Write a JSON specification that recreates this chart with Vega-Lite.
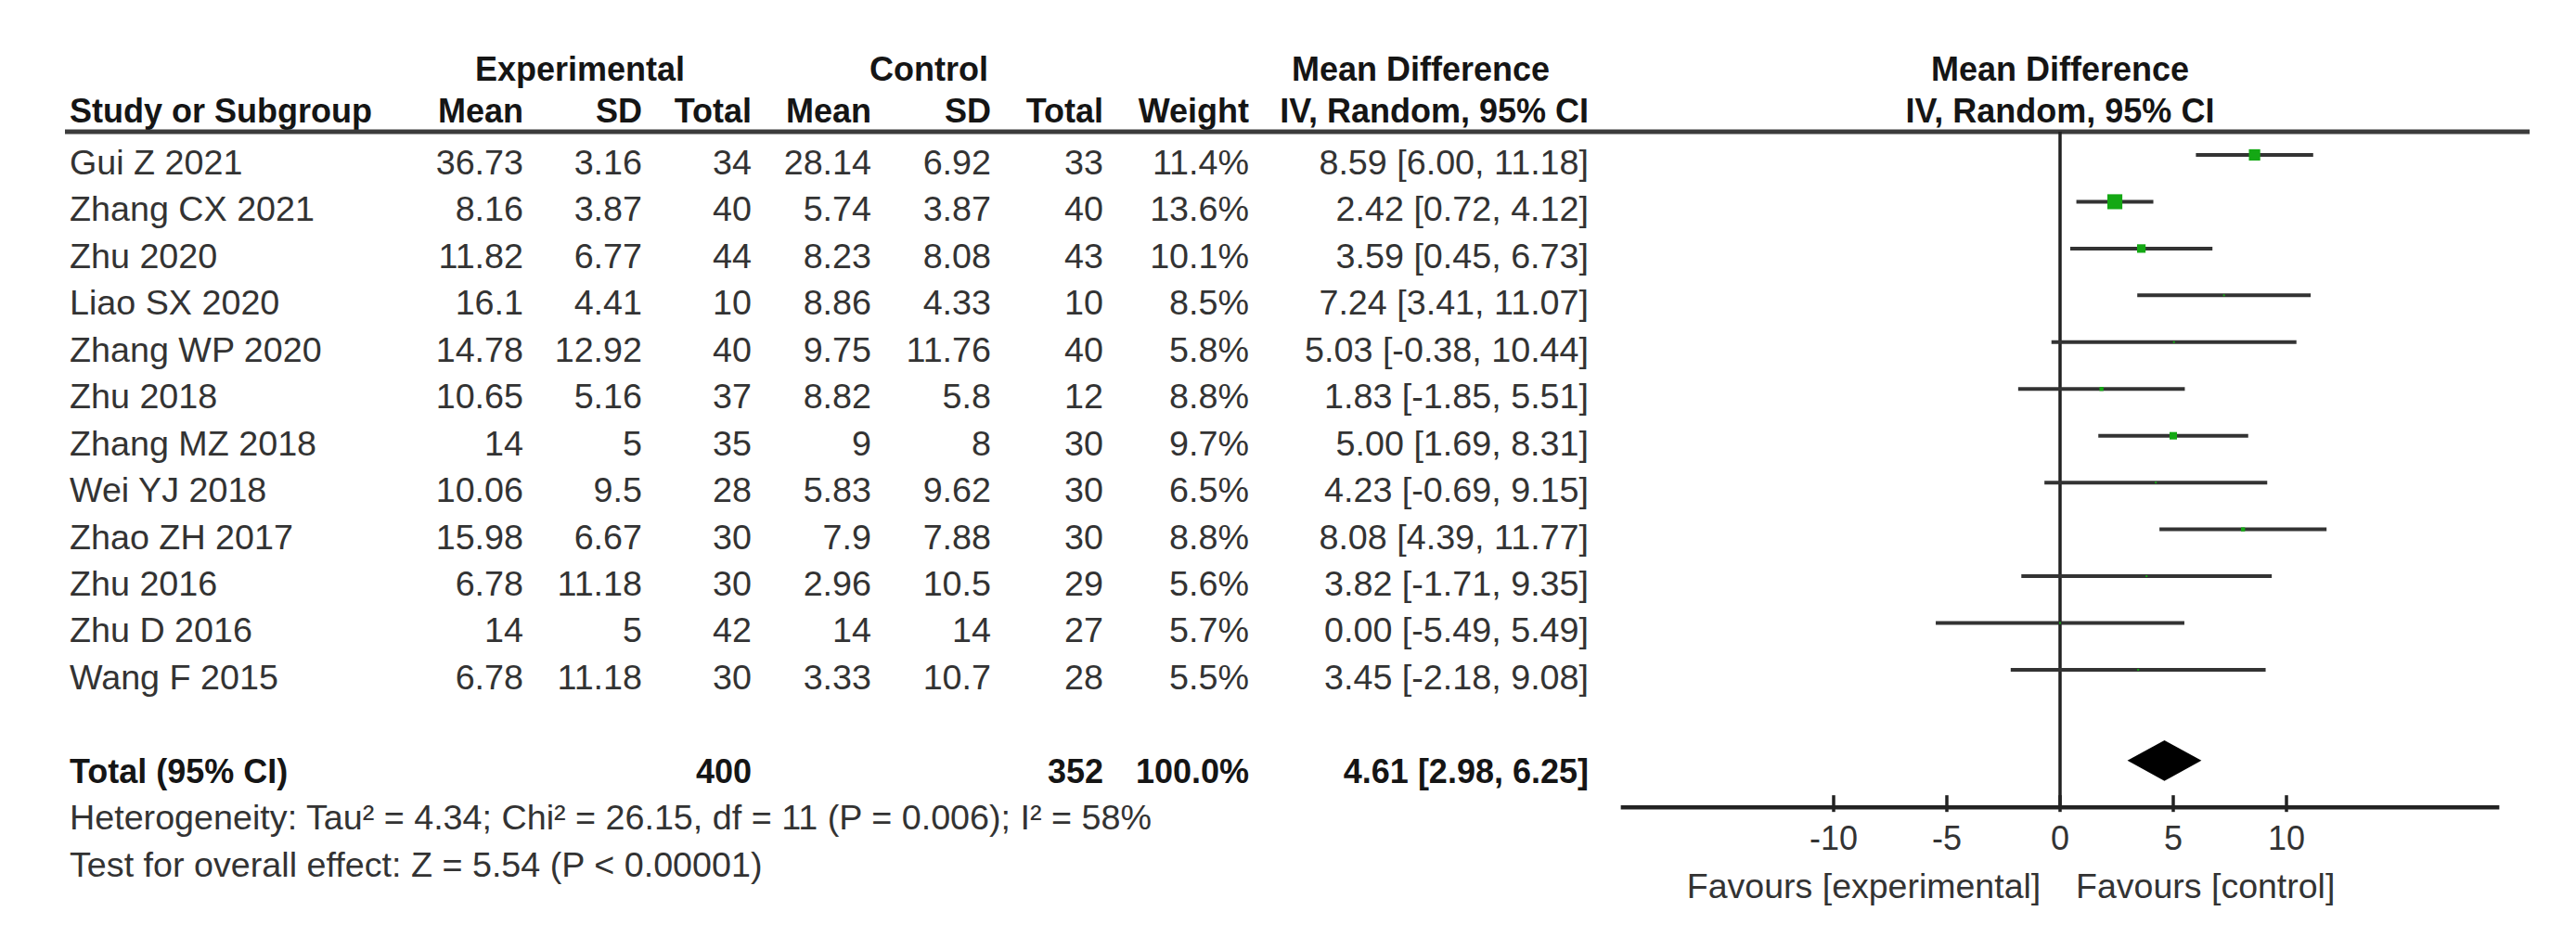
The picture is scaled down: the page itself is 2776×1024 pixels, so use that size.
{
  "$schema": "https://vega.github.io/schema/vega-lite/v6.json",
  "width": 2776,
  "height": 1024,
  "autosize": "none",
  "padding": 0,
  "background": "white",
  "config": {"view": {"stroke": null}},
  "datasets": {
    "studies": [
      {"row": 1, "study": "Gui Z 2021", "meanE": 36.73, "sdE": 3.16, "nE": 34, "meanC": 28.14, "sdC": 6.92, "nC": 33, "weight": 0.114, "md": 8.59, "lo": 6.00, "hi": 11.18, "ci": "8.59 [6.00, 11.18]"},
      {"row": 2, "study": "Zhang CX 2021", "meanE": 8.16, "sdE": 3.87, "nE": 40, "meanC": 5.74, "sdC": 3.87, "nC": 40, "weight": 0.136, "md": 2.42, "lo": 0.72, "hi": 4.12, "ci": "2.42 [0.72, 4.12]"},
      {"row": 3, "study": "Zhu 2020", "meanE": 11.82, "sdE": 6.77, "nE": 44, "meanC": 8.23, "sdC": 8.08, "nC": 43, "weight": 0.101, "md": 3.59, "lo": 0.45, "hi": 6.73, "ci": "3.59 [0.45, 6.73]"},
      {"row": 4, "study": "Liao SX 2020", "meanE": 16.1, "sdE": 4.41, "nE": 10, "meanC": 8.86, "sdC": 4.33, "nC": 10, "weight": 0.085, "md": 7.24, "lo": 3.41, "hi": 11.07, "ci": "7.24 [3.41, 11.07]"},
      {"row": 5, "study": "Zhang WP 2020", "meanE": 14.78, "sdE": 12.92, "nE": 40, "meanC": 9.75, "sdC": 11.76, "nC": 40, "weight": 0.058, "md": 5.03, "lo": -0.38, "hi": 10.44, "ci": "5.03 [-0.38, 10.44]"},
      {"row": 6, "study": "Zhu 2018", "meanE": 10.65, "sdE": 5.16, "nE": 37, "meanC": 8.82, "sdC": 5.8, "nC": 12, "weight": 0.088, "md": 1.83, "lo": -1.85, "hi": 5.51, "ci": "1.83 [-1.85, 5.51]"},
      {"row": 7, "study": "Zhang MZ 2018", "meanE": 14, "sdE": 5, "nE": 35, "meanC": 9, "sdC": 8, "nC": 30, "weight": 0.097, "md": 5.00, "lo": 1.69, "hi": 8.31, "ci": "5.00 [1.69, 8.31]"},
      {"row": 8, "study": "Wei YJ 2018", "meanE": 10.06, "sdE": 9.5, "nE": 28, "meanC": 5.83, "sdC": 9.62, "nC": 30, "weight": 0.065, "md": 4.23, "lo": -0.69, "hi": 9.15, "ci": "4.23 [-0.69, 9.15]"},
      {"row": 9, "study": "Zhao ZH 2017", "meanE": 15.98, "sdE": 6.67, "nE": 30, "meanC": 7.9, "sdC": 7.88, "nC": 30, "weight": 0.088, "md": 8.08, "lo": 4.39, "hi": 11.77, "ci": "8.08 [4.39, 11.77]"},
      {"row": 10, "study": "Zhu 2016", "meanE": 6.78, "sdE": 11.18, "nE": 30, "meanC": 2.96, "sdC": 10.5, "nC": 29, "weight": 0.056, "md": 3.82, "lo": -1.71, "hi": 9.35, "ci": "3.82 [-1.71, 9.35]"},
      {"row": 11, "study": "Zhu D 2016", "meanE": 14, "sdE": 5, "nE": 42, "meanC": 14, "sdC": 14, "nC": 27, "weight": 0.057, "md": 0.00, "lo": -5.49, "hi": 5.49, "ci": "0.00 [-5.49, 5.49]"},
      {"row": 12, "study": "Wang F 2015", "meanE": 6.78, "sdE": 11.18, "nE": 30, "meanC": 3.33, "sdC": 10.7, "nC": 28, "weight": 0.055, "md": 3.45, "lo": -2.18, "hi": 9.08, "ci": "3.45 [-2.18, 9.08]"}
    ],
    "total": [
      {"row": 14, "label": "Total (95% CI)", "nE": 400, "nC": 352, "weight": 1.0, "md": 4.61, "lo": 2.98, "hi": 6.25, "ci": "4.61 [2.98, 6.25]"}
    ],
    "headers": [
      {"text": "Experimental", "slot": 2, "row": -1},
      {"text": "Control", "slot": 6, "row": -1},
      {"text": "Mean Difference", "slot": 10, "row": -1},
      {"text": "Study or Subgroup", "slot": 0, "row": -0.1},
      {"text": "Mean", "slot": 1, "row": -0.1},
      {"text": "SD", "slot": 3, "row": -0.1},
      {"text": "Total", "slot": 4, "row": -0.1},
      {"text": "Mean", "slot": 5, "row": -0.1},
      {"text": "SD", "slot": 7, "row": -0.1},
      {"text": "Total", "slot": 8, "row": -0.1},
      {"text": "Weight", "slot": 9, "row": -0.1},
      {"text": "IV, Random, 95% CI", "slot": 11, "row": -0.1}
    ],
    "notes": [
      {"text": "Heterogeneity: Tau² = 4.34; Chi² = 26.15, df = 11 (P = 0.006); I² = 58%", "row": 15},
      {"text": "Test for overall effect: Z = 5.54 (P < 0.00001)", "row": 16}
    ],
    "plotHeaders": [
      {"text": "Mean Difference", "row": -1},
      {"text": "IV, Random, 95% CI", "row": -0.1}
    ],
    "ticks": [{"v": -10}, {"v": -5}, {"v": 0}, {"v": 5}, {"v": 10}]
  },
  "layer": [
    {
      "layer": [
        {
          "data": {"name": "studies"},
          "mark": {"type": "text", "font": "Liberation Sans", "fontSize": 37.7, "baseline": "middle", "align": "left", "color": "#333333"},
          "encoding": {
            "x": {"datum": 0, "type": "quantitative", "scale": {"domain": [0,1,2,3,4,5,6,7,8,9,10,11,12], "range": [75,564,625,692,810,939,1001,1068,1189,1346,1531,1712,2726], "nice": false, "zero": false}, "axis": null},
            "y": {"field": "row", "type": "quantitative", "scale": {"domain": [-2.508, 17.789], "reverse": true, "nice": false, "zero": false}, "axis": null},
            "text": {"field": "study", "type": "nominal"}
          }
        },
        {
          "data": {"name": "studies"},
          "mark": {"type": "text", "font": "Liberation Sans", "fontSize": 37.7, "baseline": "middle", "align": "right", "color": "#333333"},
          "encoding": {
            "x": {"datum": 1, "type": "quantitative"},
            "y": {"field": "row", "type": "quantitative"},
            "text": {"field": "meanE", "type": "nominal"}
          }
        },
        {
          "data": {"name": "studies"},
          "mark": {"type": "text", "font": "Liberation Sans", "fontSize": 37.7, "baseline": "middle", "align": "right", "color": "#333333"},
          "encoding": {
            "x": {"datum": 3, "type": "quantitative"},
            "y": {"field": "row", "type": "quantitative"},
            "text": {"field": "sdE", "type": "nominal"}
          }
        },
        {
          "data": {"name": "studies"},
          "mark": {"type": "text", "font": "Liberation Sans", "fontSize": 37.7, "baseline": "middle", "align": "right", "color": "#333333"},
          "encoding": {
            "x": {"datum": 4, "type": "quantitative"},
            "y": {"field": "row", "type": "quantitative"},
            "text": {"field": "nE", "type": "nominal"}
          }
        },
        {
          "data": {"name": "studies"},
          "mark": {"type": "text", "font": "Liberation Sans", "fontSize": 37.7, "baseline": "middle", "align": "right", "color": "#333333"},
          "encoding": {
            "x": {"datum": 5, "type": "quantitative"},
            "y": {"field": "row", "type": "quantitative"},
            "text": {"field": "meanC", "type": "nominal"}
          }
        },
        {
          "data": {"name": "studies"},
          "mark": {"type": "text", "font": "Liberation Sans", "fontSize": 37.7, "baseline": "middle", "align": "right", "color": "#333333"},
          "encoding": {
            "x": {"datum": 7, "type": "quantitative"},
            "y": {"field": "row", "type": "quantitative"},
            "text": {"field": "sdC", "type": "nominal"}
          }
        },
        {
          "data": {"name": "studies"},
          "mark": {"type": "text", "font": "Liberation Sans", "fontSize": 37.7, "baseline": "middle", "align": "right", "color": "#333333"},
          "encoding": {
            "x": {"datum": 8, "type": "quantitative"},
            "y": {"field": "row", "type": "quantitative"},
            "text": {"field": "nC", "type": "nominal"}
          }
        },
        {
          "data": {"name": "studies"},
          "mark": {"type": "text", "font": "Liberation Sans", "fontSize": 37.7, "baseline": "middle", "align": "right", "color": "#333333"},
          "encoding": {
            "x": {"datum": 9, "type": "quantitative"},
            "y": {"field": "row", "type": "quantitative"},
            "text": {"field": "weight", "type": "quantitative", "format": ".1%"}
          }
        },
        {
          "data": {"name": "studies"},
          "mark": {"type": "text", "font": "Liberation Sans", "fontSize": 37.7, "baseline": "middle", "align": "right", "color": "#333333"},
          "encoding": {
            "x": {"datum": 11, "type": "quantitative"},
            "y": {"field": "row", "type": "quantitative"},
            "text": {"field": "ci", "type": "nominal"}
          }
        },
        {
          "data": {"name": "headers"},
          "transform": [{"filter": "datum.slot == 0"}],
          "mark": {"type": "text", "font": "Liberation Sans", "fontSize": 36, "fontWeight": "bold", "baseline": "middle", "align": "left", "color": "#151515"},
          "encoding": {
            "x": {"field": "slot", "type": "quantitative"},
            "y": {"field": "row", "type": "quantitative"},
            "text": {"field": "text", "type": "nominal"}
          }
        },
        {
          "data": {"name": "headers"},
          "transform": [{"filter": "datum.slot == 2 || datum.slot == 6 || datum.slot == 10"}],
          "mark": {"type": "text", "font": "Liberation Sans", "fontSize": 36, "fontWeight": "bold", "baseline": "middle", "align": "center", "color": "#151515"},
          "encoding": {
            "x": {"field": "slot", "type": "quantitative"},
            "y": {"field": "row", "type": "quantitative"},
            "text": {"field": "text", "type": "nominal"}
          }
        },
        {
          "data": {"name": "headers"},
          "transform": [{"filter": "datum.slot != 0 && datum.slot != 2 && datum.slot != 6 && datum.slot != 10"}],
          "mark": {"type": "text", "font": "Liberation Sans", "fontSize": 36, "fontWeight": "bold", "baseline": "middle", "align": "right", "color": "#151515"},
          "encoding": {
            "x": {"field": "slot", "type": "quantitative"},
            "y": {"field": "row", "type": "quantitative"},
            "text": {"field": "text", "type": "nominal"}
          }
        },
        {
          "data": {"name": "total"},
          "mark": {"type": "text", "font": "Liberation Sans", "fontSize": 36, "fontWeight": "bold", "baseline": "middle", "align": "left", "color": "#151515"},
          "encoding": {
            "x": {"datum": 0, "type": "quantitative"},
            "y": {"field": "row", "type": "quantitative"},
            "text": {"field": "label", "type": "nominal"}
          }
        },
        {
          "data": {"name": "total"},
          "mark": {"type": "text", "font": "Liberation Sans", "fontSize": 36, "fontWeight": "bold", "baseline": "middle", "align": "right", "color": "#151515"},
          "encoding": {
            "x": {"datum": 4, "type": "quantitative"},
            "y": {"field": "row", "type": "quantitative"},
            "text": {"field": "nE", "type": "nominal"}
          }
        },
        {
          "data": {"name": "total"},
          "mark": {"type": "text", "font": "Liberation Sans", "fontSize": 36, "fontWeight": "bold", "baseline": "middle", "align": "right", "color": "#151515"},
          "encoding": {
            "x": {"datum": 8, "type": "quantitative"},
            "y": {"field": "row", "type": "quantitative"},
            "text": {"field": "nC", "type": "nominal"}
          }
        },
        {
          "data": {"name": "total"},
          "mark": {"type": "text", "font": "Liberation Sans", "fontSize": 36, "fontWeight": "bold", "baseline": "middle", "align": "right", "color": "#151515"},
          "encoding": {
            "x": {"datum": 9, "type": "quantitative"},
            "y": {"field": "row", "type": "quantitative"},
            "text": {"field": "weight", "type": "quantitative", "format": ".1%"}
          }
        },
        {
          "data": {"name": "total"},
          "mark": {"type": "text", "font": "Liberation Sans", "fontSize": 36, "fontWeight": "bold", "baseline": "middle", "align": "right", "color": "#151515"},
          "encoding": {
            "x": {"datum": 11, "type": "quantitative"},
            "y": {"field": "row", "type": "quantitative"},
            "text": {"field": "ci", "type": "nominal"}
          }
        },
        {
          "data": {"name": "notes"},
          "mark": {"type": "text", "font": "Liberation Sans", "fontSize": 37.7, "baseline": "middle", "align": "left", "color": "#333333"},
          "encoding": {
            "x": {"datum": 0, "type": "quantitative"},
            "y": {"field": "row", "type": "quantitative"},
            "text": {"field": "text", "type": "nominal"}
          }
        },
        {
          "data": {"values": [{}]},
          "mark": {"type": "rule", "color": "#3c3c3c", "strokeWidth": 5, "xOffset": -5},
          "encoding": {
            "x": {"datum": 0, "type": "quantitative"},
            "x2": {"datum": 12},
            "y": {"datum": 0.306, "type": "quantitative"}
          }
        }
      ]
    },
    {
      "layer": [
        {
          "data": {"values": [{}]},
          "mark": {"type": "rule", "color": "#222222", "strokeWidth": 3.5},
          "encoding": {
            "x": {"datum": 0, "type": "quantitative", "scale": {"domain": [-20, 20], "range": [1732, 2708], "nice": false, "zero": false}, "axis": null},
            "y": {"datum": 0.306, "type": "quantitative"},
            "y2": {"datum": 14.74}
          }
        },
        {
          "data": {"values": [{}]},
          "mark": {"type": "rule", "color": "#222222", "strokeWidth": 4.5},
          "encoding": {
            "x": {"datum": -19.4, "type": "quantitative"},
            "x2": {"datum": 19.4},
            "y": {"datum": 14.74, "type": "quantitative"}
          }
        },
        {
          "data": {"name": "ticks"},
          "mark": {"type": "rule", "color": "#222222", "strokeWidth": 3.5, "yOffset": -13, "y2Offset": 5},
          "encoding": {
            "x": {"field": "v", "type": "quantitative"},
            "y": {"datum": 14.74, "type": "quantitative"},
            "y2": {"datum": 14.74}
          }
        },
        {
          "data": {"name": "ticks"},
          "mark": {"type": "text", "font": "Liberation Sans", "fontSize": 36, "baseline": "middle", "align": "center", "color": "#333333"},
          "encoding": {
            "x": {"field": "v", "type": "quantitative"},
            "y": {"datum": 15.43, "type": "quantitative"},
            "text": {"field": "v", "type": "nominal"}
          }
        },
        {
          "data": {"values": [{}]},
          "mark": {"type": "text", "font": "Liberation Sans", "fontSize": 37.5, "baseline": "middle", "align": "right", "color": "#333333"},
          "encoding": {
            "x": {"datum": -0.85, "type": "quantitative"},
            "y": {"datum": 16.46, "type": "quantitative"},
            "text": {"value": "Favours [experimental]"}
          }
        },
        {
          "data": {"values": [{}]},
          "mark": {"type": "text", "font": "Liberation Sans", "fontSize": 37.5, "baseline": "middle", "align": "left", "color": "#333333"},
          "encoding": {
            "x": {"datum": 0.7, "type": "quantitative"},
            "y": {"datum": 16.46, "type": "quantitative"},
            "text": {"value": "Favours [control]"}
          }
        },
        {
          "data": {"name": "plotHeaders"},
          "mark": {"type": "text", "font": "Liberation Sans", "fontSize": 36, "fontWeight": "bold", "baseline": "middle", "align": "center", "color": "#151515"},
          "encoding": {
            "x": {"datum": 0, "type": "quantitative"},
            "y": {"field": "row", "type": "quantitative"},
            "text": {"field": "text", "type": "nominal"}
          }
        },
        {
          "data": {"name": "studies"},
          "mark": {"type": "rule", "color": "#333333", "strokeWidth": 4, "yOffset": -10},
          "encoding": {
            "x": {"field": "lo", "type": "quantitative"},
            "x2": {"field": "hi"},
            "y": {"field": "row", "type": "quantitative"}
          }
        },
        {
          "data": {"name": "studies"},
          "mark": {"type": "point", "shape": "square", "filled": true, "opacity": 1, "color": "#14a814", "yOffset": -10},
          "encoding": {
            "x": {"field": "md", "type": "quantitative"},
            "y": {"field": "row", "type": "quantitative"},
            "size": {"field": "weight", "type": "quantitative", "scale": {"domain": [0.085, 0.136], "range": [4, 260], "clamp": true, "zero": false}, "legend": null}
          }
        },
        {
          "data": {"name": "total"},
          "mark": {"type": "point", "shape": "M-1,0L0,-0.55L1,0L0,0.55Z", "filled": true, "opacity": 1, "color": "#000000", "size": 6370, "yOffset": -13},
          "encoding": {
            "x": {"field": "md", "type": "quantitative"},
            "y": {"field": "row", "type": "quantitative"}
          }
        }
      ]
    }
  ],
  "resolve": {"scale": {"x": "independent"}}
}
